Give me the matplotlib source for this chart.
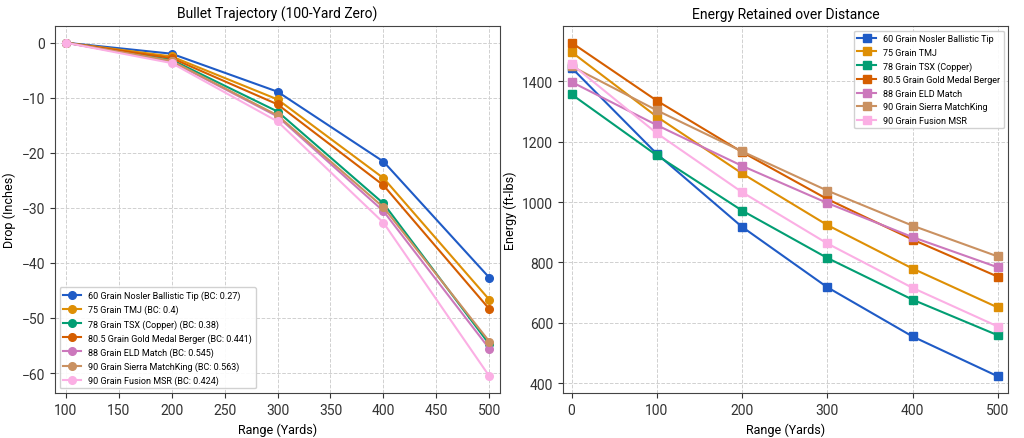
import matplotlib
matplotlib.use("Agg")
import matplotlib.pyplot as plt

plt.rcParams['font.family'] = ['Roboto', 'DejaVu Sans']

names = ["60 Grain Nosler Ballistic Tip", "75 Grain TMJ", "78 Grain TSX (Copper)",
         "80.5 Grain Gold Medal Berger", "88 Grain ELD Match", "90 Grain Sierra MatchKing",
         "90 Grain Fusion MSR"]
bcs = ["0.27", "0.4", "0.38", "0.441", "0.545", "0.563", "0.424"]
colors = ["#1f5bc6", "#de8f05", "#029e73", "#d55e00", "#cc78bc", "#ca9161", "#fbafe4"]

drop_range = [100, 200, 300, 400, 500]
drop = [
    [0, -2.0, -8.9, -21.6, -42.7],
    [0, -2.5, -10.3, -24.6, -46.7],
    [0, -3.1, -12.5, -29.2, -54.8],
    [0, -2.8, -11.2, -25.9, -48.4],
    [0, -3.4, -13.4, -30.6, -55.6],
    [0, -3.3, -13.2, -29.9, -54.3],
    [0, -3.7, -14.3, -32.7, -60.6],
]

energy_range = [0, 100, 200, 300, 400, 500]
energy = [
    [1445, 1160, 918, 718, 555, 423],
    [1497, 1283, 1095, 924, 780, 651],
    [1357, 1155, 972, 815, 677, 559],
    [1528, 1336, 1166, 1010, 876, 753],
    [1398, 1255, 1120, 997, 884, 784],
    [1450, 1304, 1168, 1038, 922, 820],
    [1457, 1228, 1033, 863, 716, 588],
]

fig = plt.figure(figsize=(10.24, 4.39), dpi=100)
ax1 = fig.add_axes([0.0537, 0.1025, 0.4346, 0.836])
ax2 = fig.add_axes([0.5498, 0.1025, 0.4346, 0.836])

for n, bc, c, d in zip(names, bcs, colors, drop):
    ax1.plot(drop_range, d, marker='o', color=c, lw=1.5, ms=5.5,
             label=f"{n} (BC: {bc})")
for n, c, e in zip(names, colors, energy):
    ax2.plot(energy_range, e, marker='s', color=c, lw=1.5, ms=5.5, label=n)

ax1.set_xlim(90, 510)
ax2.set_xlim(-10, 512)

for ax in (ax1, ax2):
    ax.grid(True, linestyle='--', color='#d0d0d0', lw=0.7)
    ax.set_axisbelow(True)
    ax.tick_params(labelsize=10, colors='#333333')
    for s in ax.spines.values():
        s.set_color('#444444')
    ax.set_xlabel("Range (Yards)", fontsize=9)

ax1.set_title("Bullet Trajectory (100-Yard Zero)", fontsize=10)
ax1.set_ylabel("Drop (Inches)", fontsize=9)
ax2.set_title("Energy Retained over Distance", fontsize=10)
ax2.set_ylabel("Energy (ft-lbs)", fontsize=9)

ax1.legend(loc='lower left', fontsize=6.5, framealpha=0.9)
ax2.legend(loc='upper right', fontsize=6.5, framealpha=0.9)

fig.savefig("out.png", dpi=100)
